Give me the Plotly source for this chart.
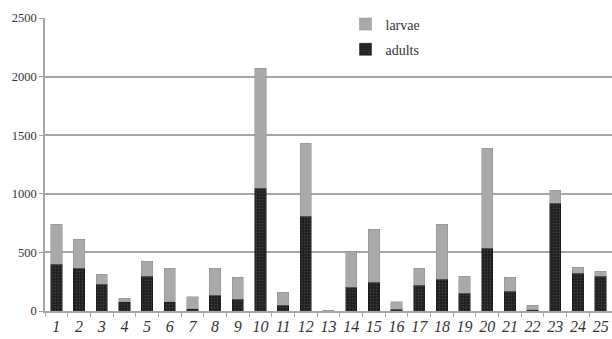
import plotly.graph_objects as go

sites = [str(i) for i in range(1, 26)]
adults = [400, 366, 230, 77, 298, 77, 20, 136, 100, 1048, 51, 809, 0, 204, 247, 15, 221, 273, 153, 537, 170, 10, 920, 324, 298]
totals = [740, 613, 315, 110, 426, 366, 120, 366, 290, 2070, 162, 1430, 8, 511, 698, 77, 366, 741, 298, 1388, 290, 50, 1030, 375, 340]
larvae = [t - a for t, a in zip(totals, adults)]
y_ticks = [0, 500, 1000, 1500, 2000, 2500]

fig = go.Figure()
fig.add_trace(go.Bar(
    x=sites, y=adults, name="adults", legendgroup="a", legendrank=2,
    marker=dict(color="#1e1e1e", line=dict(color="#111111", width=0.5),
                pattern=dict(shape=".", fgcolor="#5a5a5a", bgcolor="#1e1e1e", size=3, solidity=0.3)),
))
fig.add_trace(go.Bar(
    x=sites, y=larvae, name="larvae", legendgroup="l", legendrank=1,
    marker=dict(color="#a9a9a9", line=dict(color="#8c8c8c", width=0.5)),
))

fig.update_layout(
    barmode="stack",
    bargap=0.5,
    width=612, height=339,
    margin=dict(l=45, r=0, t=18, b=28, autoexpand=False),
    paper_bgcolor="white", plot_bgcolor="white",
    font=dict(family="Liberation Serif", color="#333333"),
    legend=dict(
        x=0.53, xanchor="left", yref="container", y=0.975, yanchor="top",
        traceorder="grouped", tracegroupgap=4,
        font=dict(size=14, family="Liberation Serif", color="#333333"),
        bgcolor="rgba(0,0,0,0)", itemwidth=30,
    ),
    xaxis=dict(
        type="category", tickangle=0,
        tickfont=dict(size=16, family="Liberation Serif", style="italic", color="#333333"),
        showline=True, linecolor="#a6a6a6", linewidth=1.5,
        ticks="outside", tickson="boundaries", ticklen=4, tickcolor="#a6a6a6",
        showgrid=False,
    ),
    yaxis=dict(
        range=[0, 2500], tickvals=y_ticks, tickfont=dict(size=12.5, family="Liberation Serif", color="#333333"),
        showgrid=True, gridcolor="#a6a6a6", gridwidth=1.5,
        showline=True, linecolor="#a6a6a6", linewidth=1.5,
        ticks="outside", ticklen=4, tickcolor="#a6a6a6",
        zeroline=False,
    ),
)

fig.write_html("out.html", config={"displayModeBar": False},
               post_script="document.body.style.margin='0px';")
